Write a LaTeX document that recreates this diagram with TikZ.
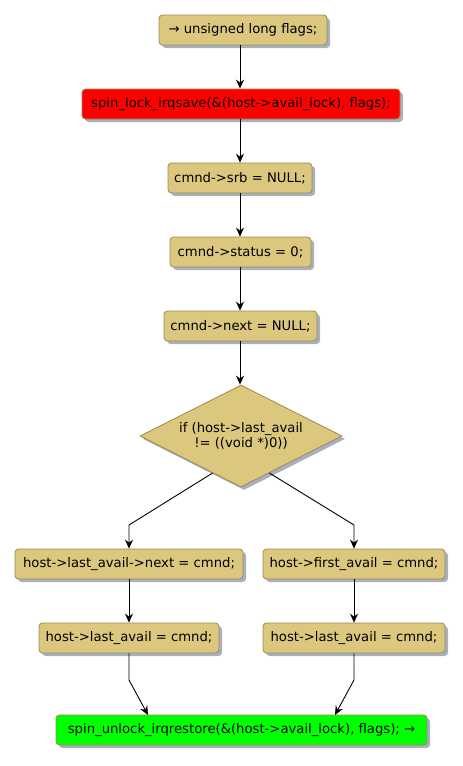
\documentclass[tikz,border=0pt]{standalone}
\usepackage{fontspec}
\setmainfont{DejaVu Sans}
\usetikzlibrary{shapes.geometric,arrows.meta,shadows,calc}
\definecolor{tan}{HTML}{DBC77D}
\definecolor{tanb}{HTML}{9E8B4C}
\definecolor{shad}{HTML}{A7B0C2}
\definecolor{redf}{HTML}{FF0000}
\definecolor{greenf}{HTML}{00FF00}
\tikzset{
  box/.style={draw=tanb, line width=0.8pt, fill=tan, rounded corners=3.5pt, inner sep=0pt,
    minimum height=30pt, font=\fontsize{13.2}{15}\selectfont,
    drop shadow={shadow xshift=3pt, shadow yshift=-3pt, fill=shad, opacity=1}},
  dia/.style={draw=tanb, line width=0.8pt, fill=tan, diamond, aspect=2, inner sep=0pt, align=center,
    minimum width=202pt, minimum height=102pt, font=\fontsize{13.2}{15}\selectfont,
    drop shadow={shadow xshift=3pt, shadow yshift=-3pt, fill=shad, opacity=1}},
  arr/.style={draw=black, line width=0.9pt, -{Stealth[length=9pt, width=8pt, inset=3pt]}}
}
\begin{document}
\begin{tikzpicture}[x=1pt,y=1pt]
\useasboundingbox (0,0) rectangle (463,-766);
\node[box, minimum width=168pt] (n1) at (243,-30) {→ unsigned long flags;};
\node[box, minimum width=318pt, fill=redf] (n2) at (241,-104) {spin\_lock\_irqsave(\&(host->avail\_lock), flags);};
\node[box, minimum width=144pt] (n3) at (240,-178) {cmnd->srb = NULL;};
\node[box, minimum width=141pt] (n4) at (240.5,-252) {cmnd->status = 0;};
\node[box, minimum width=153pt] (n5) at (240.5,-326) {cmnd->next = NULL;};
\node[dia] (d) at (241,-436) {if (host->last\_avail\\!= ((void *)0))};
\node[box, minimum width=228pt] (l1) at (129,-564) {host->last\_avail->next = cmnd;};
\node[box, minimum width=182pt] (r1) at (354,-564) {host->first\_avail = cmnd;};
\node[box, minimum width=180pt] (l2) at (129,-638) {host->last\_avail = cmnd;};
\node[box, minimum width=182pt] (r2) at (354,-638) {host->last\_avail = cmnd;};
\node[box, minimum width=371pt, fill=greenf] (g) at (241.5,-730) {spin\_unlock\_irqrestore(\&(host->avail\_lock), flags); →};
\coordinate (bl) at (129,-525);
\coordinate (br) at (354,-525);
\coordinate (ml) at (129,-680);
\coordinate (mr) at (354,-680);
\coordinate (gl) at (148,-715);
\coordinate (gr) at (335,-715);
\draw[arr] (n1.south -| n3) -- (n2.north -| n3);
\draw[arr] (n2.south -| n3) -- (n3);
\draw[arr] (n3) -- (n4.north -| n3);
\draw[arr] (n4.south -| n3) -- (n5.north -| n3);
\draw[arr] (n5.south -| n3) -- (d.north -| n3);
\draw[arr] ($(d.south)!0.28!(d.west)$) -- (bl) -- (l1);
\draw[arr] ($(d.south)!0.28!(d.east)$) -- (br) -- (r1);
\draw[arr] (l1) -- (l2);
\draw[arr] (r1) -- (r2);
\draw[arr] (l2) -- (ml) -- (gl);
\draw[arr] (r2) -- (mr) -- (gr);
\end{tikzpicture}
\end{document}
